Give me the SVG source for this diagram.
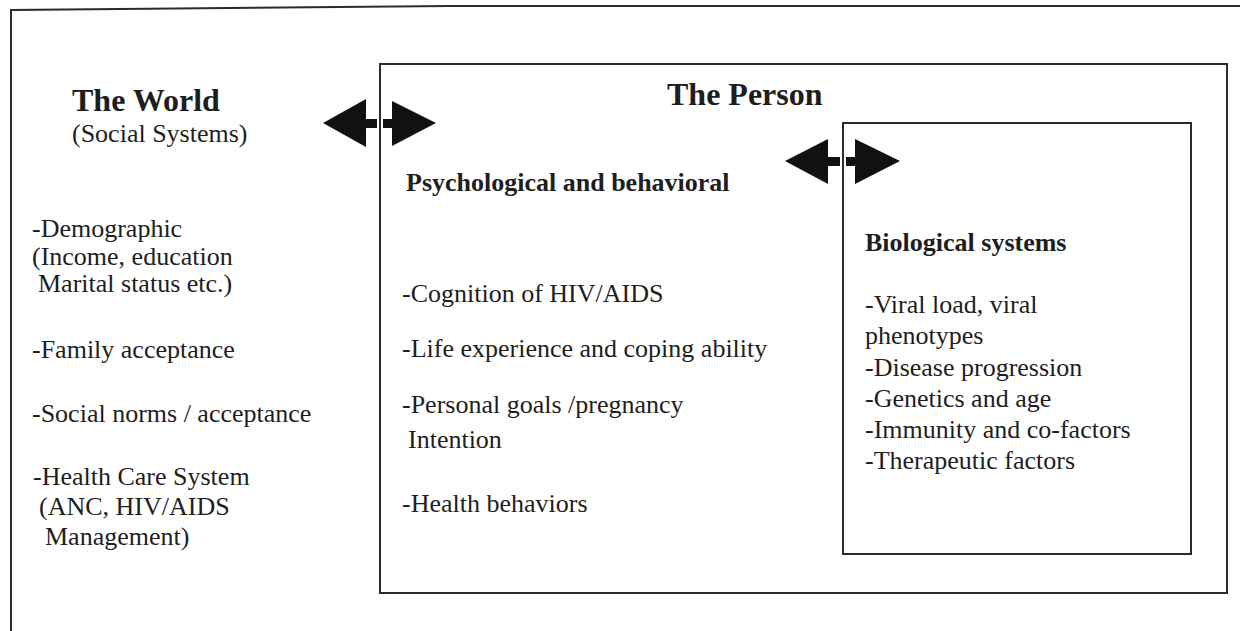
<svg xmlns="http://www.w3.org/2000/svg" width="1245" height="631" viewBox="0 0 1245 631">
  <style>
    .frame { fill: none; stroke: #2b2b2b; stroke-width: 2; }
    .head { font-family: "Liberation Serif", "Times New Roman", serif; font-weight: bold; font-size: 32px; fill: #1e1e1e; }
    .sub { font-family: "Liberation Serif", "Times New Roman", serif; font-weight: bold; font-size: 26px; fill: #1e1e1e; }
    .body { font-family: "Liberation Serif", "Times New Roman", serif; font-size: 26px; fill: #1e1e1e; }
    .arrow { fill: #111; stroke: none; }
  </style>
  <defs>
    <clipPath id="clipCoping"><rect x="380" y="320" width="391" height="50"/></clipPath>
    <clipPath id="clipProgression"><rect x="843" y="350" width="244" height="40"/></clipPath>
  </defs>
  <rect width="1245" height="631" fill="#ffffff"/>

  <!-- outer frame: the world -->
  <g id="world">
    <path class="frame" d="M11,631 L11,10 L450,6 L1240,6"/>
    <text class="head" x="72" y="111">The World</text>
    <text class="body" x="72" y="142">(Social Systems)</text>
    <text class="body" x="32" y="237">-Demographic</text>
    <text class="body" x="32" y="265">(Income, education</text>
    <text class="body" x="38" y="292">Marital status etc.)</text>
    <text class="body" x="32" y="358">-Family acceptance</text>
    <text class="body" x="32" y="422">-Social norms / acceptance</text>
    <text class="body" x="33" y="485">-Health Care System</text>
    <text class="body" x="39" y="515">(ANC, HIV/AIDS</text>
    <text class="body" x="45" y="545">Management)</text>
  </g>

  <!-- the person -->
  <g id="person">
    <rect class="frame" x="380" y="64" width="847" height="529"/>
    <text class="head" x="667" y="105">The Person</text>
    <text class="sub" x="406" y="191">Psychological and behavioral</text>
    <text class="body" x="402" y="302">-Cognition of HIV/AIDS</text>
    <text class="body" x="402" y="357" clip-path="url(#clipCoping)">-Life experience and coping ability</text>
    <text class="body" x="402" y="413">-Personal goals /pregnancy</text>
    <text class="body" x="408" y="448">Intention</text>
    <text class="body" x="402" y="512">-Health behaviors</text>
  </g>

  <!-- biological systems -->
  <g id="biological">
    <rect class="frame" x="843" y="123" width="348" height="431"/>
    <text class="sub" x="865" y="251">Biological systems</text>
    <text class="body" x="865" y="313">-Viral load, viral</text>
    <text class="body" x="865" y="344">phenotypes</text>
    <text class="body" x="865" y="376" clip-path="url(#clipProgression)">-Disease progression</text>
    <text class="body" x="865" y="407">-Genetics and age</text>
    <text class="body" x="865" y="438">-Immunity and co-factors</text>
    <text class="body" x="865" y="469">-Therapeutic factors</text>
  </g>

  <!-- two-way connectors -->
  <g id="connectors">
    <g id="world-person">
      <path class="arrow" d="M323,123 L366,99 L366,119 L377,119 L377,128 L366,128 L366,147 Z"/>
      <path class="arrow" d="M436,123 L392,101 L392,119 L383,119 L383,128 L392,128 L392,146 Z"/>
    </g>
    <g id="person-biological">
      <path class="arrow" d="M785,161 L828,139 L828,157 L840,157 L840,166 L828,166 L828,184 Z"/>
      <path class="arrow" d="M900,161 L855,139 L855,157 L846,157 L846,166 L855,166 L855,184 Z"/>
    </g>
  </g>
</svg>
